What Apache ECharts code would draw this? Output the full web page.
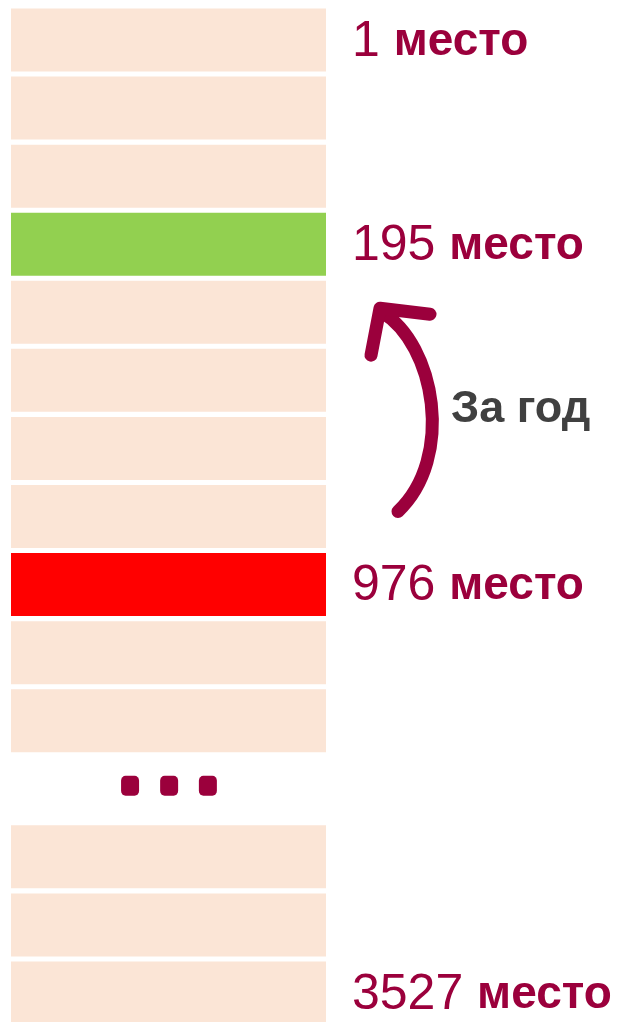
<!DOCTYPE html>
<html>
<head>
<meta charset="utf-8">
<script src="https://cdn.jsdelivr.net/npm/echarts@6/dist/echarts.min.js"></script>
<style>
    html, body { margin: 0; padding: 0; background: #fff; }
    #container { width: 621px; height: 1022px; }
</style>
</head>
<body>
<div id="container"></div>
<script>
// строки таблицы рейтинга (сверху вниз), 12-я строка - разрыв "..."
var rows = ['r1', 'r2', 'r3', 'r4', 'r5', 'r6', 'r7', 'r8', 'r9', 'r10', 'r11', 'gap', 'r13', 'r14', 'r15'];
var rowValues = [1, 1, 1, 1, 1, 1, 1, 1, 1, 1, 1, null, 1, 1, 1];
var rowStatus = ['', '', '', 'now', '', '', '', '', 'before', '', '', '', '', '', ''];
var rankLabels = ['1', '', '', '195', '', '', '', '', '976', '', '', '', '', '', '3527'];
var dotsX = [0.378, 0.502, 0.625];
var arrowText = 'За год';

var wine = '#9B003C';
var statusColors = { '': '#FBE5D6', now: '#92D050', before: '#FF0000' };

var barData = rowValues.map(function (v, i) {
    return { value: v, itemStyle: { color: statusColors[rowStatus[i]] } };
});
var dotsData = dotsX.map(function (x) { return [x, 'gap']; });

var chart = echarts.init(document.getElementById('container'));
var option = {
    animation: false,
    backgroundColor: '#fff',
    grid: { left: 11, width: 315, top: 40, height: 953 },
    xAxis: { type: 'value', min: 0, max: 1, show: false },
    yAxis: { type: 'category', data: rows, inverse: true, boundaryGap: false, show: false },
    series: [
        {
            type: 'bar',
            data: barData,
            clip: false,
            barCategoryGap: '7.5%',
            label: {
                show: true,
                position: 'right',
                distance: 26,
                offset: [0, 2],
                formatter: function (p) {
                    var r = rankLabels[p.dataIndex];
                    return r ? '{n|' + r + ' }{m|место}' : '';
                },
                rich: {
                    n: { fontFamily: 'Liberation Sans', fontSize: 50, color: wine },
                    m: { fontFamily: 'Liberation Sans', fontWeight: 'bold', fontSize: 46, color: wine }
                }
            }
        },
        {
            type: 'scatter',
            data: dotsData,
            clip: false,
            symbol: 'roundRect',
            symbolSize: [18, 20],
            symbolOffset: [0, -3],
            itemStyle: { color: wine, opacity: 1 }
        }
    ]
};
chart.setOption(option);

// стрелка "За год" от строки 976 места к строке 195 места
var yTop = chart.convertToPixel({ yAxisIndex: 0 }, 'r4');
var yBot = chart.convertToPixel({ yAxisIndex: 0 }, 'r8');
var xEnd = chart.convertToPixel({ xAxisIndex: 0 }, 1);
var tipX = xEnd + 54, tipY = yTop + 64;
chart.setOption({
    graphic: [
        {
            type: 'bezierCurve',
            shape: {
                x1: xEnd + 72, y1: yBot - 5,
                cpx1: xEnd + 129, cpy1: yBot - 59,
                cpx2: xEnd + 109, cpy2: yTop + 100,
                x2: tipX + 2, y2: tipY + 4
            },
            style: { stroke: wine, lineWidth: 13, lineCap: 'round', fill: null }
        },
        {
            type: 'polyline',
            shape: { points: [[tipX + 50, tipY + 6], [tipX, tipY], [tipX - 9, tipY + 47]] },
            style: { stroke: wine, lineWidth: 13, lineCap: 'round', lineJoin: 'round', fill: null }
        },
        {
            type: 'text',
            left: xEnd + 125,
            top: yTop + 143,
            style: {
                text: arrowText,
                fontFamily: 'Liberation Sans',
                fontWeight: 'bold',
                fontSize: 45,
                fill: '#404040'
            }
        }
    ]
});
</script>
</body>
</html>
